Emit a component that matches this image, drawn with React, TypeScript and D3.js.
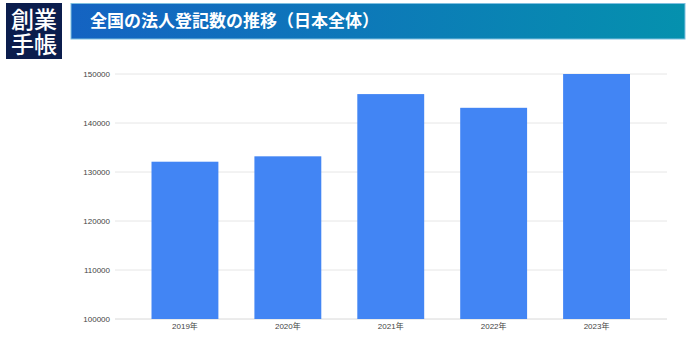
import React from "react";
import * as d3 from "d3";

const categories = ["2019年", "2020年", "2021年", "2022年", "2023年"];
const values = [132100, 133200, 145900, 143100, 150000];
const yTicks = [100000, 110000, 120000, 130000, 140000, 150000];
const titleText = "全国の法人登記数の推移（日本全体）";
const logoLines = ["創業", "手帳"];

export default function App() {
  const W = 700, H = 356;
  const x = d3.scaleBand<string>().domain(categories).range([133.5, 648]).paddingInner(0.35).paddingOuter(0.175);
  const y = d3.scaleLinear().domain([100000, 150000]).range([319, 74]);
  const font = "'Noto Sans CJK JP', 'Noto Sans', sans-serif";
  const latin = "'Liberation Sans', Arial, 'Noto Sans CJK JP', sans-serif";
  return (
    <svg width={W} height={H} style={{ position: "absolute", left: 0, top: 0, background: "#fff" }}>
      <defs>
        <linearGradient id="bannerGrad" x1="0" y1="0" x2="1" y2="0">
          <stop offset="0%" stopColor="#1463c2" />
          <stop offset="100%" stopColor="#0591ae" />
        </linearGradient>
      </defs>
      <rect x={6} y={3} width={56} height={56} fill="#0b1d4d" />
      {logoLines.map((t, i) => (
        <text key={t} x={34} y={27.5 + i * 25.5} textAnchor="middle" fill="#fff" fontSize={23} fontFamily={font} fontWeight={500}>
          {t}
        </text>
      ))}
      <rect x={71} y={3.5} width={614} height={35.5} fill="url(#bannerGrad)" stroke="#7fc0e0" strokeWidth={1} />
      <text x={90} y={27} fill="#fff" fontSize={17} fontWeight={700} fontFamily={font}>
        {titleText}
      </text>
      {yTicks.map((t) => (
        <g key={t}>
          <line x1={115} x2={667} y1={y(t)} y2={y(t)} stroke={t === 100000 ? "#d8d8d8" : "#e6e6e6"} strokeWidth={1} />
          <text x={110} y={y(t) + 3} textAnchor="end" fontSize={8} fill="#444" fontFamily={latin}>
            {t}
          </text>
        </g>
      ))}
      {categories.map((c, i) => (
        <rect key={c} x={x(c)} y={y(values[i])} width={x.bandwidth()} height={y(100000) - y(values[i])} fill="#4285f4" />
      ))}
      {categories.map((c) => (
        <text key={c} x={(x(c) as number) + x.bandwidth() / 2} y={329} textAnchor="middle" fontSize={8} fill="#444" fontFamily={latin}>
          {c}
        </text>
      ))}
    </svg>
  );
}
